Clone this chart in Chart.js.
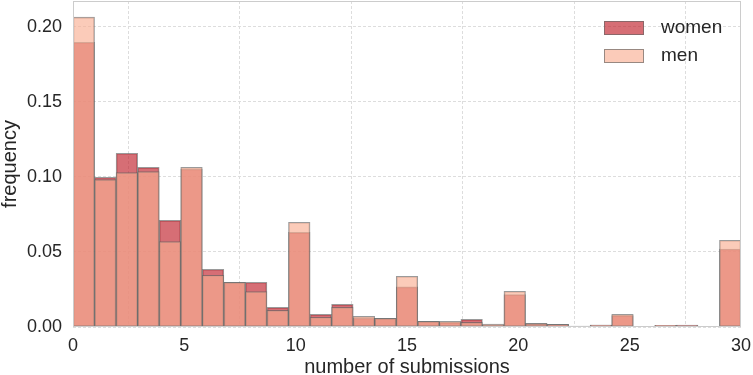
<!DOCTYPE html>
<html>
<head>
<meta charset="utf-8">
<script src="https://cdn.jsdelivr.net/npm/chart.js@4"></script>
<style>
  html, body { margin: 0; padding: 0; background: #fff; }
  #wrap { position: relative; width: 753px; height: 375px; }
  .leg { position: absolute; font-family: "Liberation Sans", Arial, sans-serif; font-size: 19px; color: #262626; }
  .patch { position: absolute; width: 38px; height: 12px; border: 1px solid rgba(100,100,100,0.65); }
</style>
</head>
<body>
<div id="wrap">
  <canvas id="chart" width="753" height="375"></canvas>
  <div class="patch" style="left:604px; top:21px; background: rgba(192,32,43,0.65);"></div>
  <div class="leg" style="left:661px; top:16px;">women</div>
  <div class="patch" style="left:604px; top:49px; background: rgba(249,175,147,0.65);"></div>
  <div class="leg" style="left:661px; top:44px;">men</div>
</div>
<script>
// histogram bins: 31 equal bins over 0..30
const binCount = 31;
const xMin = 0, xMax = 30;
const xTicks = [0, 5, 10, 15, 20, 25, 30];
const yTicks = [0, 0.05, 0.10, 0.15, 0.20];
const yMax = 0.2173;

// frequency per bin
const women = [0.1898, 0.0998, 0.1158, 0.1064, 0.0711, 0.1053, 0.0385, 0.0298, 0.0298, 0.0131,
               0.0631, 0.0084, 0.0151, 0.0060, 0.0058, 0.0267, 0.0038, 0.0031, 0.0051, 0.0011,
               0.0216, 0.0025, 0.0018, 0.0005, 0.0012, 0.0076, 0.0004, 0.0011, 0.0012, 0.0004, 0.0520];
const men   = [0.2065, 0.0982, 0.1029, 0.1036, 0.0569, 0.1065, 0.0345, 0.0297, 0.0236, 0.0111,
               0.0698, 0.0065, 0.0131, 0.0071, 0.0058, 0.0338, 0.0038, 0.0038, 0.0031, 0.0020,
               0.0238, 0.0022, 0.0018, 0.0006, 0.0012, 0.0084, 0.0004, 0.0011, 0.0010, 0.0004, 0.0578];

const binWidth = (xMax - xMin) / binCount;
const toPoints = arr => arr.map((v, i) => ({ x: xMin + (i + 0.5) * binWidth, y: v }));

const FONT = '"Liberation Sans", Arial, sans-serif';
const TEXT = '#262626';

// frame round the plot area, like matplotlib spines
const frame = {
  id: 'frame',
  afterDatasetsDraw(chart) {
    const { ctx, chartArea: a } = chart;
    ctx.save();
    ctx.strokeStyle = '#cccccc';
    ctx.lineWidth = 1;
    ctx.strokeRect(a.left + 0.5, a.top + 0.5, a.right - a.left - 1, a.bottom - a.top - 1);
    ctx.restore();
  }
};

new Chart(document.getElementById('chart'), {
  type: 'bar',
  data: {
    datasets: [
      {
        label: 'women',
        data: toPoints(women),
        backgroundColor: 'rgba(192,32,43,0.65)',
        borderColor: 'rgba(100,100,100,0.65)',
        borderWidth: 1,
        borderSkipped: false,
        grouped: false,
        order: 1,
        barPercentage: 1,
        categoryPercentage: 1
      },
      {
        label: 'men',
        data: toPoints(men),
        backgroundColor: 'rgba(249,175,147,0.65)',
        borderColor: 'rgba(100,100,100,0.65)',
        borderWidth: 1,
        borderSkipped: false,
        grouped: false,
        order: 0,
        barPercentage: 1,
        categoryPercentage: 1
      }
    ]
  },
  options: {
    responsive: false,
    animation: false,
    layout: { padding: { top: 1, right: 12, left: 0, bottom: 0 } },
    plugins: { legend: { display: false }, tooltip: { enabled: false } },
    scales: {
      x: {
        type: 'linear',
        min: xMin, max: xMax,
        offset: false,
        afterFit: s => { s.height = 48; s.paddingLeft = 0; s.paddingRight = 0; },
        afterBuildTicks: s => { s.ticks = xTicks.map(v => ({ value: v })); },
        grid: { color: '#dddddd', lineWidth: 1, drawTicks: false },
        border: { display: false, dash: [3, 2] },
        ticks: { color: TEXT, font: { family: FONT, size: 18 }, padding: 8, maxRotation: 0 },
        title: { display: true, text: 'number of submissions', color: TEXT,
                 font: { family: FONT, size: 20, lineHeight: 1 }, padding: { top: 0, bottom: -2 } }
      },
      y: {
        min: 0, max: yMax,
        afterFit: s => { s.width = 73; s.paddingTop = 0; s.paddingBottom = 0; },
        afterBuildTicks: s => { s.ticks = yTicks.map(v => ({ value: v })); },
        grid: { color: '#dddddd', lineWidth: 1, drawTicks: false },
        border: { display: false, dash: [3, 2] },
        ticks: { color: TEXT, font: { family: FONT, size: 18 }, padding: 11,
                 callback: v => v.toFixed(2) },
        title: { display: true, text: 'frequency', color: TEXT,
                 font: { family: FONT, size: 20, lineHeight: 1 }, padding: { top: 0, bottom: 0 } }
      }
    }
  },
  plugins: [frame]
});
</script>
</body>
</html>
